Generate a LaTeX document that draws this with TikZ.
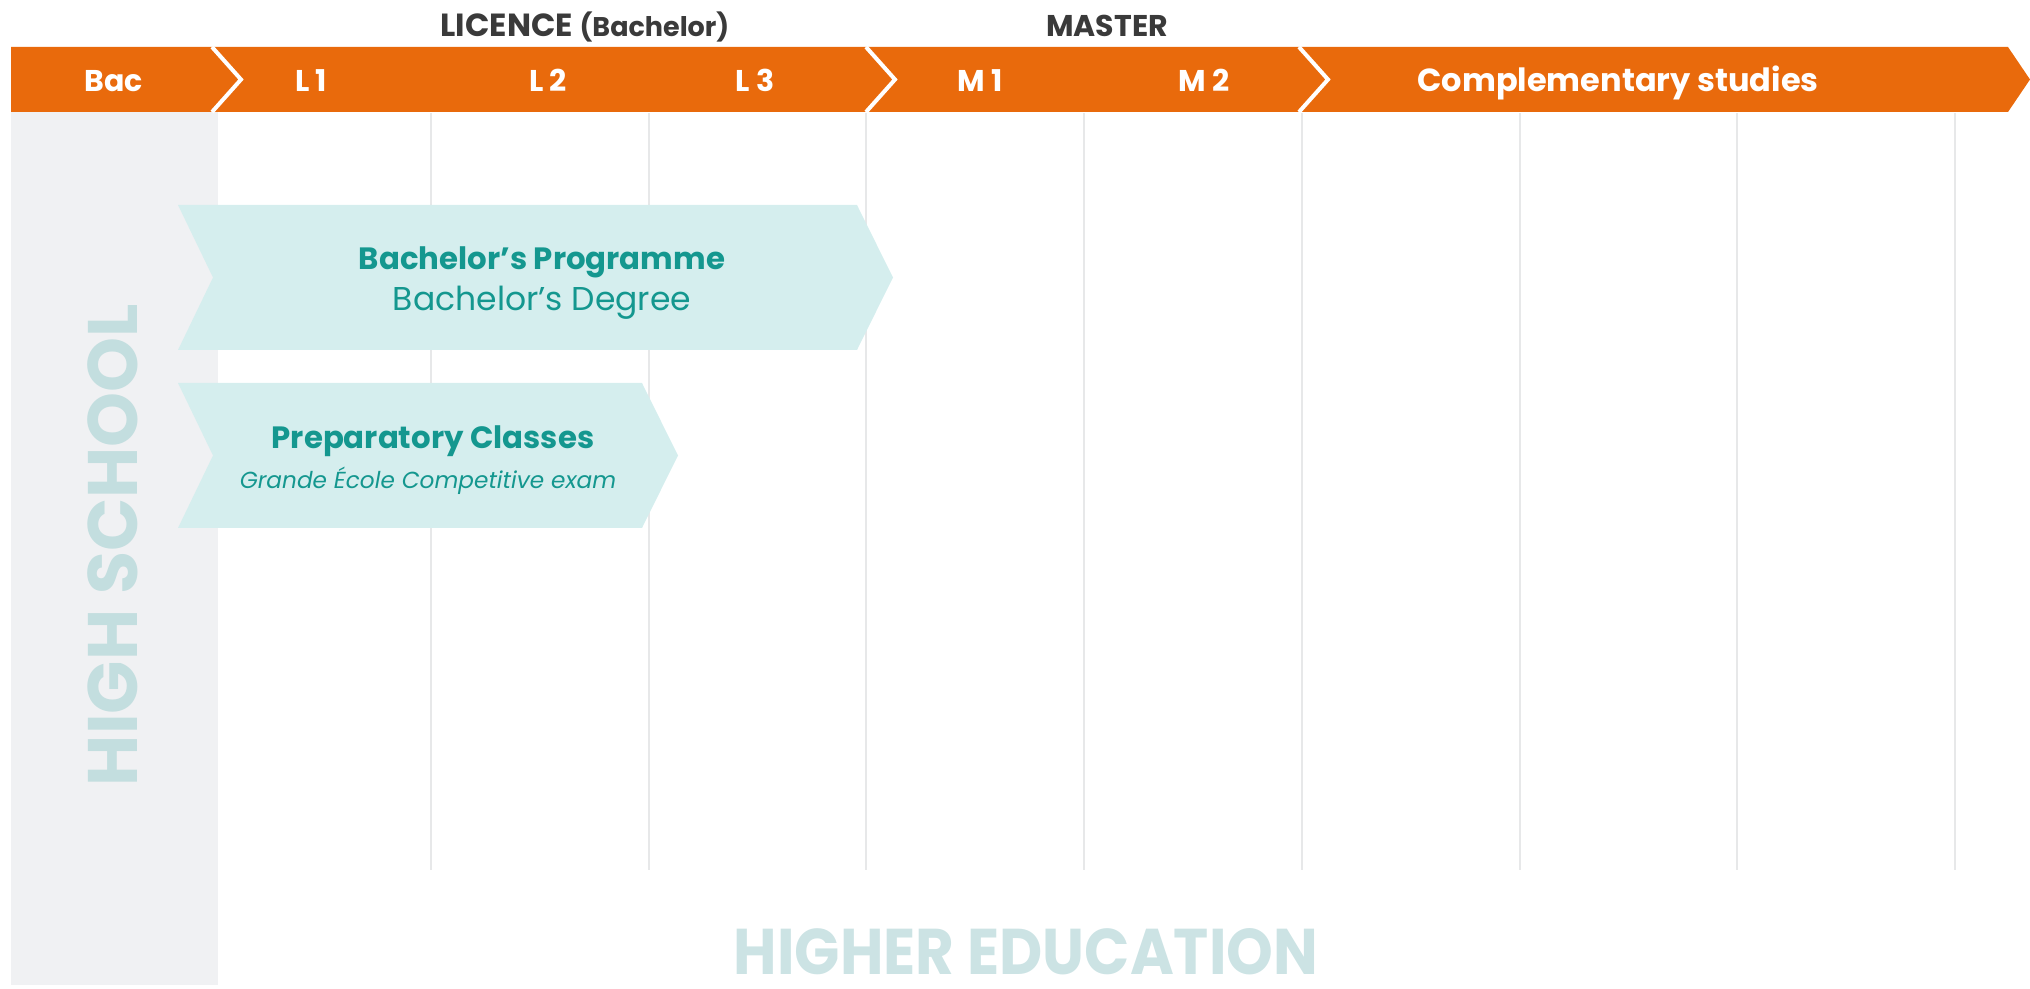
\documentclass[tikz,border=0pt]{standalone}
\usepackage{fontspec}
\setmainfont{Poppins}
\usepackage{tikz}

\definecolor{bandorange}{HTML}{E96A0C}
\definecolor{panelgrey}{HTML}{F0F1F3}
\definecolor{arrowteal}{HTML}{D5EEEE}
\definecolor{textteal}{HTML}{14978F}
\definecolor{ghostteal}{HTML}{C3DEDF}
\definecolor{headgrey}{HTML}{3A3A3A}
\definecolor{gridgrey}{HTML}{E7E8E9}

\begin{document}
\begin{tikzpicture}[x=0.5pt,y=-0.5pt]
\tikzstyle{band}=[fill=bandorange]
\tikzstyle{chevron}=[white, line width=2pt]
\tikzstyle{gridline}=[draw=gridgrey, line width=0.8pt]
\tikzstyle{prog}=[fill=arrowteal]
\tikzstyle{year}=[anchor=base, text=white, inner sep=0pt, font=\fontsize{15}{18}\selectfont\bfseries]
\tikzstyle{cyclelabel}=[anchor=base, text=headgrey, inner sep=0pt, font=\fontsize{16}{19}\selectfont\bfseries]
\tikzstyle{progtitle}=[anchor=base, text=textteal, inner sep=0pt, font=\fontsize{15.4}{18}\selectfont\bfseries]
\tikzstyle{progsub}=[anchor=base, text=textteal, inner sep=0pt, font=\fontsize{16.5}{19}\selectfont]
\tikzstyle{ghost}=[anchor=base, text=ghostteal, inner sep=0pt, font=\bfseries]
  \useasboundingbox (0,0) rectangle (2030,989);
  % high school panel
  \fill[panelgrey] (11,112) rectangle (218,985);
  % year columns
  \foreach \gx in {431,649,866,1084,1302,1520,1737,1955}
    \draw[gridline] (\gx,113) -- (\gx,870);
  % orange band
  \fill[band] (11,47) -- (2008,47) -- (2030,79.5) -- (2008,112) -- (11,112) -- cycle;
  \foreach \cx in {212,866,1299}
    \draw[chevron] (\cx,47) -- (\cx+29,79.5) -- (\cx,112);
  % years
  \node[year] (bac) at (114,92) {Bac};
  \node[year] (lone) at (311,92) {L 1};
  \node[year] (ltwo) at (548,92) {L 2};
  \node[year] (lthree) at (755,92) {L 3};
  \node[year] (mone) at (980,92) {M 1};
  \node[year] (mtwo) at (1204,92) {M 2};
  \node[year, font=\fontsize{16}{19}\selectfont\bfseries] (comp) at (1618,92) {Complementary studies};
  % cycles
  \node[cyclelabel] (licence) at (585,37) {LICENCE {\fontsize{13.5}{16}\selectfont(Bachelor)}};
  \node[cyclelabel, font=\fontsize{15}{18}\selectfont\bfseries] (master) at (1107,37) {MASTER};
  % programmes
  \fill[prog] (178,205) -- (857,205) -- (893,277.5) -- (857,350) -- (178,350) -- (213,277.5) -- cycle;
  \fill[prog] (178,383) -- (642,383) -- (678,455.5) -- (642,528) -- (178,528) -- (213,455.5) -- cycle;
  \node[progtitle] (bprog) at (542,270) {Bachelor’s Programme};
  \node[progsub] (bdeg) at (542,311) {Bachelor’s Degree};
  \node[progtitle] (prep) at (433,449) {Preparatory Classes};
  \node[progsub, font=\fontsize{11.6}{14}\selectfont\itshape] (exam) at (428,488) {Grande École Competitive exam};
  % big labels
  \node[ghost, rotate=90, font=\fontsize{35}{40}\selectfont\bfseries] (hs) at (137,545) {HIGH SCHOOL};
  \node[ghost, text=ghostteal!85] (he) at (1026,974) {\resizebox{292pt}{23pt}{HIGHER EDUCATION}};
\end{tikzpicture}
\end{document}
